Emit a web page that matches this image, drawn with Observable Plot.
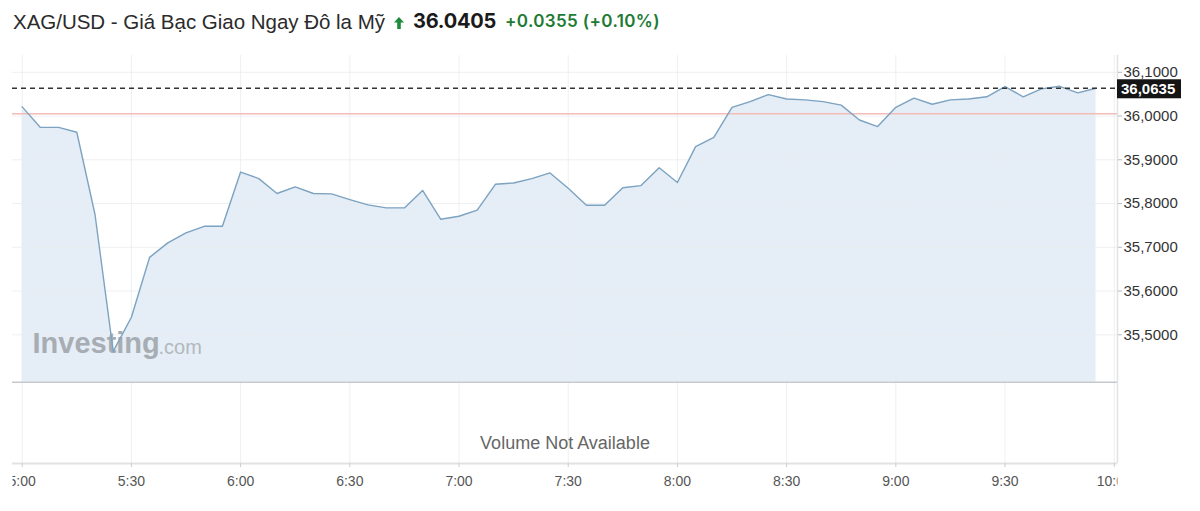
<!DOCTYPE html>
<html>
<head>
<meta charset="utf-8">
<script src="https://cdn.jsdelivr.net/npm/d3@7"></script>
<script src="https://cdn.jsdelivr.net/npm/@observablehq/plot@0.6"></script>
<style>
  body { margin: 0; background: #fff; }
  #hdr { position: relative; height: 45px; width: 1200px; white-space: nowrap; }
  #hdr span { position: absolute; line-height: 1; }
  #name { left: 13px; top: 11.5px; font: 400 20.5px "Liberation Sans", Arial, sans-serif; color: #2b2b2b; }
  #arrow { position: absolute; left: 394px; top: 16.5px; }
  #price { left: 413px; top: 11px; font: 700 20px Inter, "Liberation Sans", sans-serif; color: #1a1a1a; }
  #chg { left: 505px; top: 12.5px; font: 600 17px Inter, "Liberation Sans", sans-serif; color: #1e7b34; }
  #chart { width: 1200px; height: 466px; }
</style>
</head>
<body>
<div id="hdr">
  <span id="name">XAG/USD - Giá Bạc Giao Ngay Đô la Mỹ</span>
  <svg id="arrow" width="10" height="12" viewBox="0 0 10 12"><polygon points="5,0 10,5.5 6.8,5.5 6.8,12 3.2,12 3.2,5.5 0,5.5" fill="#1e8a3c"/></svg>
  <span id="price">36.0405</span>
  <span id="chg">+0.0355 (+0.10%)</span>
</div>
<div id="chart"></div>
<script>
// ---- data ----
const times = ["5:00","5:05","5:10","5:15","5:20","5:25","5:30","5:35","5:40","5:45",
               "5:50","5:55","6:00","6:05","6:10","6:15","6:20","6:25","6:30","6:35",
               "6:40","6:45","6:50","6:55","7:00","7:05","7:10","7:15","7:20","7:25",
               "7:30","7:35","7:40","7:45","7:50","7:55","8:00","8:05","8:10","8:15",
               "8:20","8:25","8:30","8:35","8:40","8:45","8:50","8:55","9:00","9:05",
               "9:10","9:15","9:20","9:25","9:30","9:35","9:40","9:45","9:50","9:55"];
const prices = [36.021,35.974,35.974,35.963,35.775,35.462,35.540,35.677,35.710,35.733,
                35.748,35.748,35.872,35.857,35.823,35.838,35.823,35.822,35.809,35.797,
                35.790,35.790,35.830,35.764,35.771,35.785,35.844,35.847,35.857,35.870,
                35.835,35.796,35.796,35.836,35.841,35.882,35.848,35.930,35.951,36.020,
                36.033,36.049,36.039,36.037,36.033,36.025,35.991,35.976,36.020,36.041,
                36.027,36.037,36.039,36.044,36.067,36.044,36.062,36.068,36.053,36.0635];
const xTickLabels = ["5:00","5:30","6:00","6:30","7:00","7:30","8:00","8:30","9:00","9:30","10:00"];
const yTicks = [35.5, 35.6, 35.7, 35.8, 35.9, 36.0, 36.1];
const prevClose = [36.005];
const lastPrice = [36.0635];
const priceFloor = [35.3917];     // bottom of the price panel
const volumeFloor = [35.2058];    // bottom of the (empty) volume panel
const priceCeiling = 36.1384;     // top of the chart frame
const volumeNote = ["Volume Not Available"];
const watermark = ["Investing", ".com"];
const frameTimes = ["4:57:20", "10:00:54"];

// ---- helpers ----
const toDate = s => { const [h, m, sec = 0] = s.split(":").map(Number); return new Date(Date.UTC(2025, 5, 13, h, m, sec)); };
const data = times.map((t, i) => ({t: toDate(t), p: prices[i]}));
const xTicks = xTickLabels.map(toDate);
const frame = frameTimes.map(toDate);
const fmtY = v => d3.format(".4f")(v).replace(".", ",");

// price tag on the right edge, drawn with the plot's y scale
function priceTag(index, scales, values, dimensions) {
  const y = scales.y(lastPrice[0]);
  const x0 = dimensions.width - dimensions.marginRight;
  const g = d3.create("svg:g");
  g.append("rect").attr("x", x0).attr("y", y - 8.5).attr("width", 64).attr("height", 19).attr("fill", "#151515");
  g.append("text").attr("x", x0 + 4).attr("y", y + 1).attr("dy", "0.35em")
    .attr("text-anchor", "start")
    .attr("fill", "#fff").attr("font-weight", "bold").attr("font-size", 15)
    .attr("font-family", "'Liberation Sans', Arial, sans-serif")
    .text(fmtY(lastPrice[0]));
  return g.node();
}

const chart = Plot.plot({
  width: 1200,
  height: 466,
  marginTop: 10,
  marginBottom: 48,
  marginLeft: 12,
  marginRight: 83,
  style: {fontFamily: "'Liberation Sans', Arial, sans-serif", background: "#fff"},
  x: {type: "utc", domain: frame},
  y: {domain: [volumeFloor[0], priceCeiling]},
  marks: [
    Plot.areaY(data, {x: "t", y1: priceFloor[0], y2: "p", fill: "#e5eef6"}),
    Plot.ruleY(yTicks, {stroke: "#e9ecef", strokeWidth: 1, strokeOpacity: 0.8}),
    Plot.ruleX(xTicks, {stroke: "#e9ecef", strokeWidth: 1, strokeOpacity: 0.8}),
    Plot.text([watermark[0]], {frameAnchor: "top-left", dx: 20, dy: 288, textAnchor: "start", lineAnchor: "middle",
      fontSize: 29, fontWeight: "bold", fill: "#a7adb3", text: d => d}),
    Plot.text([watermark[1]], {frameAnchor: "top-left", dx: 146, dy: 292, textAnchor: "start", lineAnchor: "middle",
      fontSize: 20, fill: "#b3b8bd", text: d => d}),
    Plot.ruleY(priceFloor, {stroke: "#c5c9ce", strokeWidth: 1.5}),
    Plot.ruleY(volumeFloor, {stroke: "#e2e2e2", strokeWidth: 2}),
    Plot.ruleX([frame[1]], {stroke: "#e2e2e2", strokeWidth: 1.5}),
    Plot.ruleY(prevClose, {stroke: "#f4bcb8", strokeWidth: 1.5}),
    Plot.lineY(data, {x: "t", y: "p", stroke: "#7da3c1", strokeWidth: 1.4}),
    Plot.ruleY(lastPrice, {stroke: "#333", strokeWidth: 1.3, strokeDasharray: "5,4"}),
    Plot.text(volumeNote, {frameAnchor: "bottom", dy: -15, fontSize: 18, fill: "#666", text: d => d}),
    Plot.axisX({ticks: xTicks, tickFormat: d3.utcFormat("%-H:%M"), tickSize: 4, tickPadding: 9,
      fontSize: 14, fill: "#555", stroke: "#ccc", label: null}),
    Plot.axisY({anchor: "right", ticks: yTicks, tickFormat: fmtY, tickSize: 4, tickPadding: 2,
      fontSize: 15, fill: "#333", stroke: "#bbb", label: null}),
    priceTag
  ]
});
document.getElementById("chart").append(chart);

// clip x tick labels to the chart frame, as in the original
const svg = d3.select(chart);
svg.insert("defs", ":first-child").append("clipPath").attr("id", "xclip")
  .append("rect").attr("x", 12).attr("y", 0).attr("width", 1105).attr("height", 466);
svg.selectAll('g[aria-label="x-axis tick label"]').attr("clip-path", "url(#xclip)");

// fit header texts to the widths in the original
function fit(id, target) {
  const el = document.getElementById(id);
  const w = el.getBoundingClientRect().width;
  const n = el.textContent.length;
  el.style.letterSpacing = ((target - w) / n) + "px";
}
fit("name", 372);
fit("price", 83);
fit("chg", 155);
</script>
</body>
</html>
